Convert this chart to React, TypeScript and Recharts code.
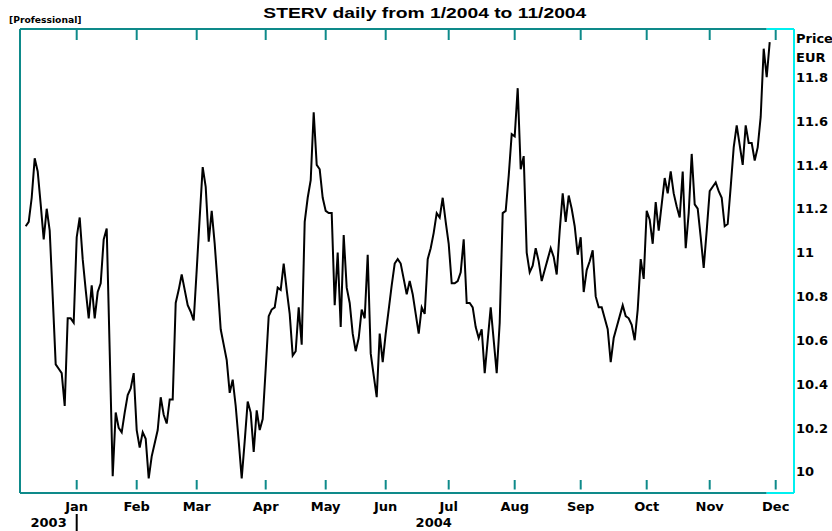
import React from "react";
import { LineChart, Line, XAxis, YAxis, ReferenceLine } from "recharts";

// daily closing prices, one per trading day (Dec 2003 .. early Dec 2004)
const prices = [
  11.12, 11.14, 11.25, 11.43, 11.37, 11.22, 11.06, 11.2, 11.1, 10.8,
  10.49, 10.47, 10.45, 10.3, 10.7, 10.7, 10.68, 11.07, 11.16, 10.97,
  10.83, 10.7, 10.85, 10.7, 10.82, 10.86, 11.06, 11.11, 10.55, 9.98,
  10.27, 10.2, 10.18, 10.27, 10.35, 10.38, 10.45, 10.19, 10.11, 10.18,
  10.15, 9.97, 10.07, 10.13, 10.19, 10.34, 10.26, 10.22, 10.33, 10.33,
  10.77, 10.83, 10.9, 10.83, 10.76, 10.73, 10.69, 10.92, 11.16, 11.39,
  11.3, 11.05, 11.19, 11.04, 10.85, 10.65, 10.58, 10.51, 10.36, 10.42,
  10.3, 10.14, 9.97, 10.14, 10.32, 10.27, 10.09, 10.28, 10.19, 10.24,
  10.47, 10.71, 10.74, 10.75, 10.84, 10.83, 10.95, 10.83, 10.72, 10.53,
  10.55, 10.75, 10.58, 11.14, 11.25, 11.33, 11.64, 11.4, 11.38, 11.25,
  11.19, 11.18, 11.18, 10.76, 11.0, 10.66, 11.08, 10.84, 10.77, 10.63,
  10.55, 10.61, 10.74, 10.7, 10.99, 10.54, 10.44, 10.34, 10.63, 10.5,
  10.63, 10.74, 10.85, 10.95, 10.97, 10.95, 10.88, 10.81, 10.87, 10.81,
  10.72, 10.63, 10.75, 10.72, 10.97, 11.02, 11.09, 11.18, 11.16, 11.25,
  11.14, 11.04, 10.86, 10.86, 10.87, 10.91, 11.06, 10.77, 10.77, 10.75,
  10.66, 10.61, 10.65, 10.45, 10.6, 10.75, 10.6, 10.45, 10.68, 11.18,
  11.19, 11.35, 11.54, 11.53, 11.75, 11.38, 11.44, 11.0, 10.91, 10.94,
  11.02, 10.96, 10.87, 10.92, 10.97, 11.02, 10.98, 10.9, 11.1, 11.27,
  11.14, 11.26, 11.2, 11.12, 10.99, 11.07, 10.82, 10.92, 10.96, 11.01,
  10.8, 10.75, 10.75, 10.7, 10.65, 10.5, 10.61, 10.66, 10.71, 10.76,
  10.71, 10.7, 10.67, 10.6, 10.74, 10.97, 10.88, 11.19, 11.15, 11.04,
  11.23, 11.1, 11.22, 11.34, 11.27, 11.37, 11.27, 11.21, 11.16, 11.37,
  11.02, 11.18, 11.45, 11.22, 11.2, 11.07, 10.93, 11.1, 11.28, 11.3,
  11.32, 11.28, 11.25, 11.12, 11.13, 11.3, 11.48, 11.58, 11.49, 11.4,
  11.58, 11.5, 11.5, 11.42, 11.48, 11.62, 11.93, 11.8, 11.96,
];

// first trading day of each month (index into prices)
const monthTicks = [17, 37, 57, 80, 100, 120, 141, 163, 185, 207, 228, 250];
const monthLabels = ["Jan", "Feb", "Mar", "Apr", "May", "Jun", "Jul", "Aug", "Sep", "Oct", "Nov", "Dec"];
const yearTicks = [17, 136];
const yearLabels = ["2003", "2004"];
const priceTicks = [10, 10.2, 10.4, 10.6, 10.8, 11, 11.2, 11.4, 11.6, 11.8];

const xDomain: [number, number] = [-1.9, 256.1];
const yDomain: [number, number] = [9.903, 12.02];
const hiFrom = prices.length - 2;

const TEAL = "#0e8a8a";
const CYAN = "#00f0f0";
const FONT = "DejaVu Sans, Verdana, sans-serif";

const data = prices.map((p, i) => ({ i, p }));

const TopTick = (props: any) => {
  const { x, y } = props;
  return <line x1={x} x2={x} y1={y + 1} y2={y + 11} stroke={TEAL} strokeWidth={2} />;
};

const BottomTick = (props: any) => {
  const { x, y, payload } = props;
  const k = monthTicks.indexOf(payload.value);
  return (
    <g>
      <line x1={x} x2={x} y1={y - 3.5} y2={y - 13} stroke={TEAL} strokeWidth={2} />
      <text x={x} y={y + 17.5} textAnchor="middle" fill="#000" fontSize={13} fontWeight="bold" fontFamily={FONT}>
        {monthLabels[k]}
      </text>
    </g>
  );
};

const YearTick = (props: any) => {
  const { x, y, payload } = props;
  const k = yearTicks.indexOf(payload.value);
  if (k === 0) {
    return (
      <g>
        <line x1={x} x2={x} y1={y - 16} y2={y + 1} stroke="#000" strokeWidth={2} />
        <text x={x - 10} y={y - 3} textAnchor="end" fill="#000" fontSize={13} fontWeight="bold" fontFamily={FONT}>
          {yearLabels[k]}
        </text>
      </g>
    );
  }
  return (
    <text x={x} y={y - 3} textAnchor="middle" fill="#000" fontSize={13} fontWeight="bold" fontFamily={FONT}>
      {yearLabels[k]}
    </text>
  );
};

export default function App() {
  return (
    <div style={{ position: "absolute", left: 0, top: 0, width: 832, height: 531, background: "#fff" }}>
      <LineChart width={832} height={531} data={data} margin={{ top: 28, right: 0, bottom: 0, left: 19 }}>
        <XAxis
          xAxisId="month"
          dataKey="i"
          type="number"
          domain={xDomain}
          allowDataOverflow
          ticks={monthTicks}
          interval={0}
          height={37}
          tickSize={0}
          tickMargin={0}
          tickLine={false}
          axisLine={false}
          tick={<BottomTick />}
        />
        <XAxis
          xAxisId="year"
          dataKey="i"
          type="number"
          domain={xDomain}
          allowDataOverflow
          ticks={yearTicks}
          interval={0}
          height={1}
          tickSize={0}
          tickMargin={0}
          tickLine={false}
          axisLine={false}
          tick={<YearTick />}
        />
        <XAxis
          xAxisId="top"
          orientation="top"
          dataKey="i"
          type="number"
          domain={xDomain}
          allowDataOverflow
          ticks={monthTicks}
          interval={0}
          height={1}
          tickSize={0}
          tickMargin={0}
          tickLine={false}
          axisLine={false}
          tick={<TopTick />}
        />
        <YAxis
          yAxisId="left"
          orientation="left"
          domain={yDomain}
          allowDataOverflow
          width={1}
          tick={false}
          tickLine={false}
          axisLine={{ stroke: TEAL, strokeWidth: 2 }}
        />
        <YAxis
          yAxisId="right"
          orientation="right"
          domain={yDomain}
          allowDataOverflow
          ticks={priceTicks}
          interval={0}
          width={38}
          tickSize={0}
          tickMargin={2}
          tickLine={false}
          axisLine={{ stroke: CYAN, strokeWidth: 2 }}
          tick={{ fill: "#000", fontSize: 13, fontWeight: "bold", fontFamily: FONT }}
        />
        {/* frame: teal up to the last session, cyan after it */}
        {[yDomain[0], yDomain[1]].map((yv) => (
          <ReferenceLine
            key={"t" + yv}
            xAxisId="month"
            yAxisId="right"
            segment={[{ x: xDomain[0], y: yv }, { x: hiFrom, y: yv }]}
            stroke={TEAL}
            strokeWidth={2}
            ifOverflow="visible"
          />
        ))}
        {[yDomain[0], yDomain[1]].map((yv) => (
          <ReferenceLine
            key={"c" + yv}
            xAxisId="month"
            yAxisId="right"
            segment={[{ x: hiFrom, y: yv }, { x: xDomain[1], y: yv }]}
            stroke={CYAN}
            strokeWidth={2}
            ifOverflow="visible"
          />
        ))}
        <Line
          xAxisId="month"
          yAxisId="right"
          dataKey="p"
          type="linear"
          stroke="#000"
          strokeWidth={2}
          dot={false}
          isAnimationActive={false}
        />
      </LineChart>
      <svg width={832} height={531} style={{ position: "absolute", left: 0, top: 0, pointerEvents: "none" }}>
        <text x={9} y={23} fontSize={9.2} fontWeight="bold" fontFamily={FONT} fill="#000">
          [Professional]
        </text>
        <text
          x={263.3}
          y={18.3}
          fontSize={15.5}
          fontWeight="bold"
          fontFamily="Liberation Sans, Arial, sans-serif"
          fill="#000"
          textLength={323}
          lengthAdjust="spacingAndGlyphs"
        >
          STERV daily from 1/2004 to 11/2004
        </text>
        <text x={796} y={43} fontSize={13} fontWeight="bold" fontFamily={FONT} fill="#000">
          Price
        </text>
        <text x={796} y={61.5} fontSize={13} fontWeight="bold" fontFamily={FONT} fill="#000">
          EUR
        </text>
      </svg>
    </div>
  );
}
